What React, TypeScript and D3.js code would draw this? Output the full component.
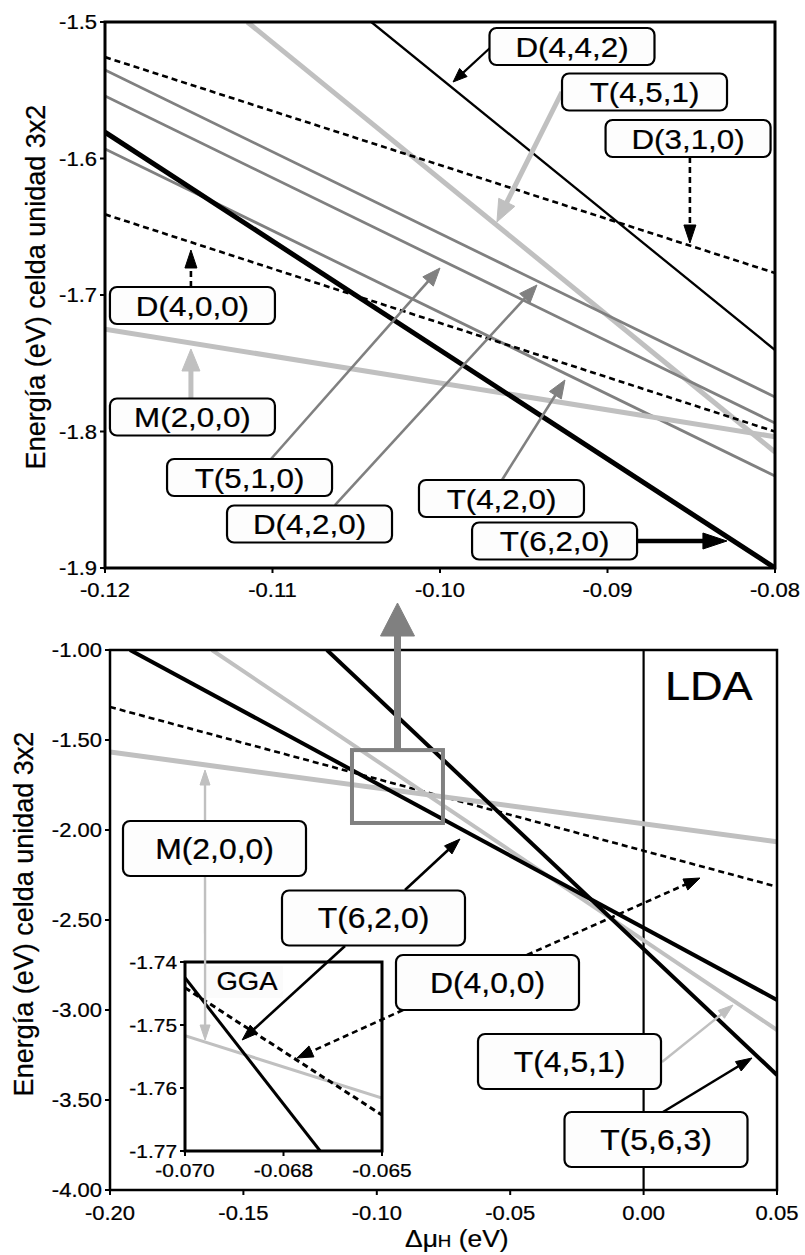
import React from 'react';
import * as d3 from 'd3';

// ---------- tick values and labels ----------
const topXTicks = [-0.12, -0.11, -0.10, -0.09, -0.08];
const topXLabels = ['-0.12', '-0.11', '-0.10', '-0.09', '-0.08'];
const topYTicks = [-1.5, -1.6, -1.7, -1.8, -1.9];
const topYLabels = ['-1.5', '-1.6', '-1.7', '-1.8', '-1.9'];

const botXTicks = [-0.2, -0.15, -0.1, -0.05, 0.0, 0.05];
const botXLabels = ['-0.20', '-0.15', '-0.10', '-0.05', '0.00', '0.05'];
const botYTicks = [-1.0, -1.5, -2.0, -2.5, -3.0, -3.5, -4.0];
const botYLabels = ['-1.00', '-1.50', '-2.00', '-2.50', '-3.00', '-3.50', '-4.00'];

const insXTicks = [-0.07, -0.0675, -0.065];
const insXLabels = ['-0.070', '-0.068', '-0.065'];
const insYTicks = [-1.74, -1.75, -1.76, -1.77];
const insYLabels = ['-1.74', '-1.75', '-1.76', '-1.77'];

// ---------- series (straight lines: two end points) ----------
const topNames = ['D(4,4,2)', 'T(4,5,1)', 'D(3,1,0)', 'D(4,2,0)', 'T(5,1,0)', 'T(4,2,0)', 'D(4,0,0)', 'M(2,0,0)', 'T(6,2,0)'];
const topStart = [[-0.1041, -1.5], [-0.1115, -1.5], [-0.12, -1.5257], [-0.12, -1.5352], [-0.12, -1.5542], [-0.12, -1.5930], [-0.12, -1.6409], [-0.12, -1.7251], [-0.12, -1.5807]];
const topEnd = [[-0.08, -1.7403], [-0.08, -1.8150], [-0.08, -1.6839], [-0.08, -1.7747], [-0.08, -1.7938], [-0.08, -1.8326], [-0.08, -1.8001], [-0.08, -1.8038], [-0.08, -1.9]];

const botNames = ['D(4,0,0)', 'M(2,0,0)', 'T(4,5,1)', 'T(6,2,0)', 'T(5,6,3)'];
const botStart = [[-0.2, -1.3167], [-0.2, -1.567], [-0.1618, -1.0], [-0.1925, -1.0], [-0.1187, -1.0]];
const botEnd = [[0.05, -2.315], [0.05, -2.065], [0.05, -3.111], [0.05, -2.944], [0.05, -3.361]];

const insNames = ['M(2,0,0)', 'D(4,0,0)', 'T(6,2,0)'];
const insStart = [[-0.07, -1.7517], [-0.07, -1.7441], [-0.07, -1.7425]];
const insEnd = [[-0.065, -1.7616], [-0.065, -1.7643], [-0.06657, -1.77]];

// ---------- annotations ----------
const topLabelNames = ['D(4,4,2)', 'T(4,5,1)', 'D(3,1,0)', 'D(4,0,0)', 'M(2,0,0)', 'T(5,1,0)', 'D(4,2,0)', 'T(4,2,0)', 'T(6,2,0)'];
const topLabelPos = [[-0.09212, -1.51795], [-0.08779, -1.55128], [-0.08519, -1.58535], [-0.11478, -1.70769], [-0.11478, -1.78938], [-0.11137, -1.8337], [-0.10779, -1.86777], [-0.09633, -1.84908], [-0.09316, -1.88022]];
const topArrowFrom = [[-0.09702, -1.51905], [-0.09272, -1.55128], [-0.08508, -1.5989], [-0.11487, -1.69414], [-0.11487, -1.77546], [-0.11009, -1.82015], [-0.10627, -1.85385], [-0.0963, -1.83553], [-0.08824, -1.88022]];
const topArrowTo = [[-0.09922, -1.54396], [-0.0966, -1.64652], [-0.08508, -1.6619], [-0.11487, -1.66703], [-0.11487, -1.73956], [-0.1, -1.68022], [-0.09421, -1.69267], [-0.09254, -1.76227], [-0.08287, -1.88022]];
const topArrowKind = ['thinBlack', 'lightThick', 'dash', 'dash', 'lightThick', 'gray', 'gray', 'gray', 'thickBlack'];

const botLabelNames = ['M(2,0,0)', 'T(6,2,0)', 'D(4,0,0)', 'T(4,5,1)', 'T(5,6,3)'];
const botLabelPos = [[-0.16083, -2.10278], [-0.10124, -2.48889], [-0.05851, -2.84722], [-0.02777, -3.28611], [0.00465, -3.71944]];
// frame: 'm' = main axes, 'i' = inset axes
const botArrowFrom = [['m', -0.16439, -2.10278], ['m', -0.16439, -2.10278], ['m', -0.08943, -2.33333], ['m', -0.11192, -2.64444], ['m', -0.0437, -2.69444], ['m', -0.09018, -3.0], ['m', 0.0069, -3.28889], ['m', 0.00727, -3.56667]];
const botArrowTo = [['m', -0.16439, -1.66667], ['i', -0.06949, -1.75238], ['m', -0.06882, -2.05], ['i', -0.06855, -1.75238], ['m', 0.02114, -2.26667], ['i', -0.06716, -1.75524], ['m', 0.03351, -2.97222], ['m', 0.04063, -3.26667]];
const botArrowKind = ['lightThin', 'lightThin', 'black2', 'black2', 'dash2', 'dash2', 'lightThin', 'black2'];

const zoomBoxX = [-0.1093, -0.0752];
const zoomBoxY = [-1.556, -1.961];
const bigArrowX = -0.09224;
const bigArrowTipY = -0.7389;

// ---------- styles ----------
const LIGHT = '#c0c0c0';
const MID = '#808080';
const FONT = "'Liberation Sans', Arial, Helvetica, sans-serif";
const SX = 1.1;

const topStyle: Record<string, any> = {
  'D(4,4,2)': { c: '#000', w: 2.3 },
  'T(4,5,1)': { c: LIGHT, w: 5 },
  'D(3,1,0)': { c: '#000', w: 2.6, d: '6,4' },
  'D(4,2,0)': { c: MID, w: 2.8 },
  'T(5,1,0)': { c: MID, w: 2.8 },
  'T(4,2,0)': { c: MID, w: 2.8 },
  'D(4,0,0)': { c: '#000', w: 2.6, d: '6,4' },
  'M(2,0,0)': { c: LIGHT, w: 5 },
  'T(6,2,0)': { c: '#000', w: 5 },
};
const botStyle: Record<string, any> = {
  'D(4,0,0)': { c: '#000', w: 2.6, d: '6,4' },
  'M(2,0,0)': { c: LIGHT, w: 5 },
  'T(4,5,1)': { c: LIGHT, w: 4 },
  'T(6,2,0)': { c: '#000', w: 4 },
  'T(5,6,3)': { c: '#000', w: 4 },
};
const insStyle: Record<string, any> = {
  'M(2,0,0)': { c: LIGHT, w: 3 },
  'D(4,0,0)': { c: '#000', w: 3, d: '6,4' },
  'T(6,2,0)': { c: '#000', w: 3 },
};
const arrowStyle: Record<string, any> = {
  thinBlack: { c: '#000', w: 2.2, hl: 14, hw: 11 },
  lightThick: { c: LIGHT, w: 5, hl: 22, hw: 18 },
  dash: { c: '#000', w: 2.6, hl: 18, hw: 12, d: '6,4' },
  gray: { c: MID, w: 2.6, hl: 18, hw: 14 },
  thickBlack: { c: '#000', w: 4.5, hl: 24, hw: 16 },
  lightThin: { c: LIGHT, w: 2.4, hl: 15, hw: 10 },
  black2: { c: '#000', w: 2.6, hl: 16, hw: 11 },
  dash2: { c: '#000', w: 2.6, hl: 16, hw: 12, d: '6,4' },
};

function Txt({ x, y, size, anchor = 'middle', children }: any) {
  return (
    <text transform={`translate(${x},${y}) scale(${SX},1)`} fontSize={size} textAnchor={anchor} fontFamily={FONT} fill="#000" stroke="#000" strokeWidth={0.25}>
      {children}
    </text>
  );
}

function Arrow({ x1, y1, x2, y2, s }: any) {
  const dx = x2 - x1, dy = y2 - y1;
  const L = Math.hypot(dx, dy) || 1;
  const ux = dx / L, uy = dy / L;
  const bx = x2 - ux * s.hl, by = y2 - uy * s.hl;
  const px = -uy, py = ux;
  const pts = `${x2},${y2} ${bx + (px * s.hw) / 2},${by + (py * s.hw) / 2} ${bx - (px * s.hw) / 2},${by - (py * s.hw) / 2}`;
  return (
    <g>
      <line x1={x1} y1={y1} x2={bx + ux * 2} y2={by + uy * 2} stroke={s.c} strokeWidth={s.w} strokeDasharray={s.d} />
      <polygon points={pts} fill={s.c} stroke={s.c} strokeWidth={1} strokeLinejoin="round" />
    </g>
  );
}

function LabelBox({ cx, cy, w, h, size, text }: any) {
  return (
    <g>
      <rect x={cx - w / 2} y={cy - h / 2} width={w} height={h} rx={7} ry={7} fill="#fdfdfd" stroke="#000" strokeWidth={2.2} />
      <Txt x={cx} y={cy + size * 0.36} size={size}>{text}</Txt>
    </g>
  );
}

export default function App() {
  const tx = d3.scaleLinear().domain([-0.12, -0.08]).range([105, 775]);
  const ty = d3.scaleLinear().domain([-1.5, -1.9]).range([22, 568]);
  const bx = d3.scaleLinear().domain([-0.2, 0.05]).range([110, 777]);
  const by = d3.scaleLinear().domain([-1, -4]).range([650, 1190]);
  const ix = d3.scaleLinear().domain([-0.07, -0.065]).range([185, 382]);
  const iy = d3.scaleLinear().domain([-1.74, -1.77]).range([962, 1151]);

  const mkLine = (sx: any, sy: any) => d3.line<number[]>().x((d) => sx(d[0])).y((d) => sy(d[1]));
  const topLine = mkLine(tx, ty);
  const botLine = mkLine(bx, by);
  const insLine = mkLine(ix, iy);

  const pt = (p: any[]) => (p[0] === 'i' ? [ix(p[1]), iy(p[2])] : [bx(p[1]), by(p[2])]);

  const [tX0, tX1] = tx.range();
  const [tY0, tY1] = ty.range();
  const [bX0, bX1] = bx.range();
  const [bY0, bY1] = by.range();
  const [iX0, iX1] = ix.range();
  const [iY0, iY1] = iy.range();

  const zx0 = bx(zoomBoxX[0]), zx1 = bx(zoomBoxX[1]);
  const zy0 = by(zoomBoxY[0]), zy1 = by(zoomBoxY[1]);

  return (
    <svg width={805} height={1255} style={{ position: 'absolute', left: 0, top: 0, background: '#fff' }}>
      <defs>
        <clipPath id="clipTop"><rect x={tX0} y={tY0} width={tX1 - tX0} height={tY1 - tY0} /></clipPath>
        <clipPath id="clipBot"><rect x={bX0} y={bY0} width={bX1 - bX0} height={bY1 - bY0} /></clipPath>
        <clipPath id="clipIns"><rect x={iX0} y={iY0} width={iX1 - iX0} height={iY1 - iY0} /></clipPath>
      </defs>
      <rect x={0} y={0} width={805} height={1255} fill="#fff" />

      {/* ================= TOP CHART ================= */}
      <g clipPath="url(#clipTop)">
        {topNames.map((n, i) => (
          <path key={n} d={topLine([topStart[i], topEnd[i]]) || ''} fill="none" stroke={topStyle[n].c} strokeWidth={topStyle[n].w} strokeDasharray={topStyle[n].d} />
        ))}
      </g>
      <rect x={tX0} y={tY0} width={tX1 - tX0} height={tY1 - tY0} fill="none" stroke="#000" strokeWidth={3} />
      {topXTicks.map((t, i) => (
        <g key={'tx' + i}>
          <line x1={tx(t)} x2={tx(t)} y1={tY1} y2={tY1 + 5} stroke="#000" strokeWidth={2} />
          <Txt x={tx(t)} y={tY1 + 29} size={20}>{topXLabels[i]}</Txt>
        </g>
      ))}
      {topYTicks.map((t, i) => (
        <g key={'ty' + i}>
          <line x1={tX0 - 5} x2={tX0} y1={ty(t)} y2={ty(t)} stroke="#000" strokeWidth={2} />
          <Txt x={tX0 - 8} y={ty(t) + 7} size={20} anchor="end">{topYLabels[i]}</Txt>
        </g>
      ))}
      <text transform={`translate(45,${(tY0 + tY1) / 2 - 8}) rotate(-90)`} fontSize={27} textAnchor="middle" fontFamily={FONT} stroke="#000" strokeWidth={0.25}>Energía (eV) celda unidad 3x2</text>

      {topArrowFrom.map((f, i) => (
        <Arrow key={'ta' + i} x1={tx(f[0])} y1={ty(f[1])} x2={tx(topArrowTo[i][0])} y2={ty(topArrowTo[i][1])} s={arrowStyle[topArrowKind[i]]} />
      ))}
      {topLabelNames.map((n, i) => (
        <LabelBox key={'tl' + i} cx={tx(topLabelPos[i][0])} cy={ty(topLabelPos[i][1])} w={165} h={37} size={28.5} text={n} />
      ))}

      {/* ================= BOTTOM CHART ================= */}
      <g clipPath="url(#clipBot)">
        <line x1={bx(0)} x2={bx(0)} y1={bY0} y2={bY1} stroke="#000" strokeWidth={2.2} />
        {botNames.map((n, i) => (
          <path key={n} d={botLine([botStart[i], botEnd[i]]) || ''} fill="none" stroke={botStyle[n].c} strokeWidth={botStyle[n].w} strokeDasharray={botStyle[n].d} />
        ))}
      </g>
      <rect x={bX0} y={bY0} width={bX1 - bX0} height={bY1 - bY0} fill="none" stroke="#000" strokeWidth={2.5} />
      {botXTicks.map((t, i) => (
        <g key={'bx' + i}>
          <line x1={bx(t)} x2={bx(t)} y1={bY1} y2={bY1 + 5} stroke="#000" strokeWidth={2} />
          <Txt x={bx(t)} y={bY1 + 30} size={20}>{botXLabels[i]}</Txt>
        </g>
      ))}
      {botYTicks.map((t, i) => (
        <g key={'by' + i}>
          <line x1={bX0 - 5} x2={bX0} y1={by(t)} y2={by(t)} stroke="#000" strokeWidth={2} />
          <Txt x={bX0 - 8} y={by(t) + 7} size={20} anchor="end">{botYLabels[i]}</Txt>
        </g>
      ))}
      <text transform={`translate(33,${(bY0 + bY1) / 2 - 6}) rotate(-90)`} fontSize={27} textAnchor="middle" fontFamily={FONT} stroke="#000" strokeWidth={0.25}>Energía (eV) celda unidad 3x2</text>
      <text transform={`translate(405,1247) scale(${SX},1)`} fontSize={24} fontFamily={FONT} stroke="#000" strokeWidth={0.25}>
        Δμ<tspan fontSize={17}>H</tspan> (eV)
      </text>

      {/* zoom box and big arrow */}
      <rect x={zx0} y={zy0} width={zx1 - zx0} height={zy1 - zy0} fill="none" stroke={MID} strokeWidth={4} />
      <Arrow x1={bx(bigArrowX)} y1={zy0} x2={bx(bigArrowX)} y2={by(bigArrowTipY)} s={{ c: MID, w: 7, hl: 33, hw: 34 }} />

      <Txt x={665} y={700} size={41} anchor="start">LDA</Txt>

      {/* ================= INSET ================= */}
      <rect x={iX0} y={iY0} width={iX1 - iX0} height={iY1 - iY0} fill="#fff" />
      <rect x={205} y={966} width={78} height={32} fill="#fbfbfb" />
      <Txt x={247} y={990} size={25}>GGA</Txt>
      <g clipPath="url(#clipIns)">
        {insNames.map((n, i) => (
          <path key={n} d={insLine([insStart[i], insEnd[i]]) || ''} fill="none" stroke={insStyle[n].c} strokeWidth={insStyle[n].w} strokeDasharray={insStyle[n].d} />
        ))}
      </g>
      <rect x={iX0} y={iY0} width={iX1 - iX0} height={iY1 - iY0} fill="none" stroke="#000" strokeWidth={3} />
      {insXTicks.map((t, i) => (
        <g key={'ix' + i}>
          <line x1={ix(t)} x2={ix(t)} y1={iY1} y2={iY1 + 5} stroke="#000" strokeWidth={2} />
          <Txt x={ix(t)} y={iY1 + 26} size={19}>{insXLabels[i]}</Txt>
        </g>
      ))}
      {insYTicks.map((t, i) => (
        <g key={'iy' + i}>
          <line x1={iX0 - 5} x2={iX0} y1={iy(t)} y2={iy(t)} stroke="#000" strokeWidth={2} />
          <Txt x={iX0 - 8} y={iy(t) + 7} size={19} anchor="end">{insYLabels[i]}</Txt>
        </g>
      ))}

      {/* bottom annotations */}
      {botArrowFrom.map((f, i) => {
        const a = pt(f), b = pt(botArrowTo[i]);
        return <Arrow key={'ba' + i} x1={a[0]} y1={a[1]} x2={b[0]} y2={b[1]} s={arrowStyle[botArrowKind[i]]} />;
      })}
      {botLabelNames.map((n, i) => (
        <LabelBox key={'bl' + i} cx={bx(botLabelPos[i][0])} cy={by(botLabelPos[i][1])} w={183} h={55} size={29} text={n} />
      ))}
    </svg>
  );
}
